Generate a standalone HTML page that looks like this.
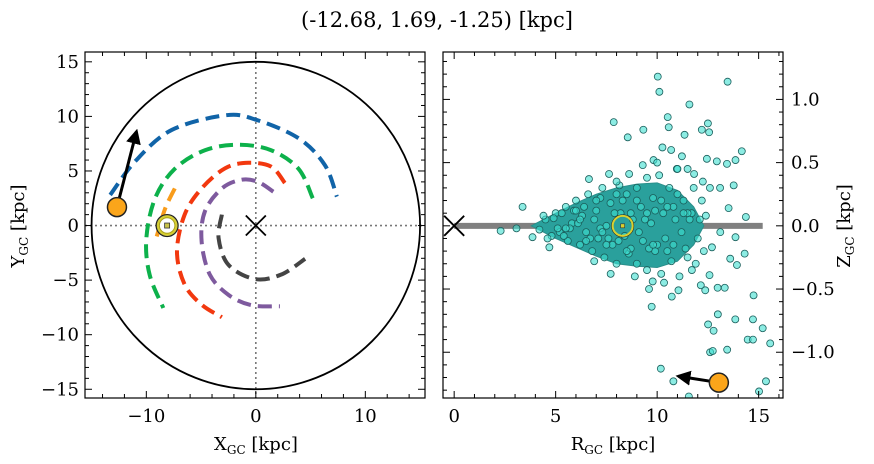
<!DOCTYPE html>
<html><head><meta charset="utf-8"><style>
html,body{margin:0;padding:0;background:#fff}
svg{display:block;font-family:"DejaVu Serif","Liberation Serif",serif}
</style></head><body>
<svg id="s" width="874" height="464" viewBox="0 0 874 464">
<defs>
<clipPath id="cl"><rect x="85" y="52" width="340" height="346"/></clipPath>
<clipPath id="cr"><rect x="443" y="52" width="340" height="346"/></clipPath>
<marker id="ah" viewBox="0 0 10 10" refX="8" refY="5" markerWidth="5" markerHeight="5" orient="auto"><path d="M0,0 L10,5 L0,10 z" fill="#000"/></marker>
</defs>
<text x="437" y="27" text-anchor="middle" font-size="21">(-12.68, 1.69, -1.25) [kpc]</text>
<g id="L"></g>
<g id="R"></g>
</svg>
<script>
// ---- data: left panel (X_GC, Y_GC) orbits ----
const blueOrbitX=[-13.3,-11.0,-7.7,-2.8,0,3.9,6.3,7.4];
const blueOrbitY=[2.8,5.9,8.75,10.1,9.7,8.0,5.55,2.65];
const greenOrbitX=[5.2,3.9,1.4,-1.6,-4.65,-7.4,-9.2,-10.0,-9.7,-8.45];
const greenOrbitY=[2.5,5.2,6.9,7.4,6.9,5.2,2.5,-1.2,-4.5,-7.55];
const orangeOrbitX=[-7.4,-8.3,-9.05];
const orangeOrbitY=[3.4,1.5,-1.0];
const redOrbitX=[2.65,1.4,-0.7,-2.8,-4.95,-6.5,-7.2,-6.5,-4.95,-3.1];
const redOrbitY=[3.9,5.4,5.75,5.25,3.4,1.0,-2.4,-5.4,-7.25,-8.4];
const purpleOrbitX=[1.6,0.2,-1.3,-3.1,-4.65,-4.95,-4.2,-2.5,-0.4,2.2];
const purpleOrbitY=[3.1,4.0,4.2,3.4,1.3,-1.45,-4.5,-6.35,-7.3,-7.4];
const grayOrbitX=[-3.1,-3.4,-2.5,-0.1,2.3,4.5];
const grayOrbitY=[1.0,-1.15,-3.6,-4.9,-4.5,-3.05];
const sunXY=[-8.1,0];
const objXY=[-12.68,1.69];
const objArrowEnd=[-10.9,8.6];
const xTicksL=[-10,0,10];
const yTicksL=[-15,-10,-5,0,5,10,15];
// ---- data: right panel (R_GC, Z_GC) ----
const starR=[10.03,13.47,10.11,11.59,10.52,7.86,10.57,12.5,9.32,8.55,11.35,12.2,12.56,10.26,10.69,14.17,13.86,6.64,3.37,2.29,3.07,3.86,4.69,14.37,13.86,14.31,13.93,9.73,12.99,13.85,14.75,14.72,15.2,12.51,12.78,14.46,14.72,15.57,12.61,12.74,13.45,10.18,10.8,11.56,15.36,15.02,10.72,11.05,12.15,12.37,12.98,13.33,9.78,10.34,7.71,11.71,12.58,13.6,12.7,13.11,13.52,13.77,13.1,12.45,12.94,13.44,11.22,9.82,9.29,8.62,7.63,8.14,11.82,10.97,12.25,
4.5,4.8,5.0,5.2,5.5,5.6,5.8,6.0,6.2,6.3,6.5,6.6,6.8,7.0,7.1,7.3,7.4,7.5,7.7,7.8,8.0,8.0,8.2,8.4,8.5,8.6,8.8,9.0,9.0,9.2,9.3,9.5,9.5,9.7,9.8,9.9,10.1,10.2,10.3,10.4,10.6,10.7,10.9,11.0,11.1,11.3,11.4,11.6,11.8,11.9,7.2,6.9,8.9,10.0,9.6,11.5,12.0,12.2,
4.2,4.4,4.6,4.9,5.1,5.3,5.4,5.7,5.9,6.1,6.4,6.7,6.9,7.2,7.6,7.9,8.1,8.3,8.7,9.1,9.4,9.6,9.9,10.2,10.5,10.8,11.2,11.5,11.7,12.1,6.0,6.5,7.0,7.5,8.0,8.5,9.0,9.5,10.0,10.5,11.0,11.5,5.5,6.2,7.3,8.7,9.8,10.8,11.3,12.4,12.3,12.6];
const starZ=[1.18,1.14,1.06,0.96,0.86,0.82,0.78,0.81,0.76,0.70,0.72,0.76,0.74,0.62,0.60,0.59,0.52,0.37,0.15,-0.04,-0.02,-0.09,-0.17,0.07,-0.09,-0.22,-0.31,-0.64,-0.70,-0.74,-0.55,-0.74,-0.81,-0.78,-0.83,-0.90,-0.90,-0.93,-1.0,-0.99,-0.98,-1.13,-1.23,-1.35,-1.23,-1.31,-0.56,-0.51,-0.47,-0.51,-0.49,-0.49,-0.44,-0.45,-0.38,-0.35,-0.39,-0.26,-0.17,-0.05,0.14,0.32,0.30,0.53,0.51,0.49,0.55,0.52,0.48,0.41,0.41,0.32,0.41,0.45,0.35,
0.05,-0.08,0.1,-0.05,0.15,-0.12,0.02,0.2,-0.15,0.08,-0.05,0.25,-0.2,0.12,-0.1,0.3,-0.25,0.0,0.18,-0.15,0.35,-0.3,0.1,-0.08,0.25,-0.22,0.05,0.3,-0.3,0.15,-0.12,0.38,-0.35,0.02,0.22,-0.2,0.4,-0.38,0.1,-0.1,0.3,-0.28,0.05,0.45,-0.4,0.2,-0.18,0.05,0.3,-0.3,0.22,-0.28,-0.4,0.5,-0.5,0.45,-0.1,0.2,
-0.03,0.08,-0.1,0.06,-0.02,0.1,-0.08,-0.02,0.12,0.02,0.15,-0.1,0.05,-0.02,-0.1,0.1,-0.12,0.2,-0.18,-0.05,0.05,-0.18,0.12,0.2,-0.2,0.15,-0.05,-0.25,0.1,0.05,0.12,-0.12,0.2,-0.15,0.25,-0.2,0.2,0.1,-0.15,0.15,0.25,0.1,-0.02,0.05,-0.05,0.1,-0.15,-0.15,0.1,0.08,-0.2,0.3];
const coreR=[3.8,5,6,7,8,9,10,11,11.8,12.3,11.8,11,10,9,8,7,6,5];
const coreZ=[0,0.1,0.18,0.25,0.3,0.33,0.34,0.28,0.15,0,-0.15,-0.28,-0.33,-0.32,-0.3,-0.24,-0.17,-0.1];
const sunRZ=[8.3,0];
const objRZ=[13.04,-1.24];
const objRZArrowEnd=[11.05,-1.19];
const planeR=[0,15.2];
const xTicksR=[0,5,10,15];
const yTicksR=[-1.0,-0.5,0.0,0.5,1.0];

const NS='http://www.w3.org/2000/svg';
function mk(p,tag,at){const e=document.createElementNS(NS,tag);for(const k in at)e.setAttribute(k,at[k]);p.appendChild(e);return e;}
function fmt(v,d){return (v<0?'\u2212':'')+Math.abs(v).toFixed(d);}
const L={x0:85,x1:425,y0:52,y1:398,xmin:-15.6,xmax:15.45,ymin:-15.8,ymax:15.9};
const R={x0:443,x1:783,y0:52,y1:398,xmin:-0.55,xmax:16.2,ymin:-1.362,ymax:1.375};
function sx(P,v){return P.x0+(v-P.xmin)/(P.xmax-P.xmin)*(P.x1-P.x0);}
function sy(P,v){return P.y1-(v-P.ymin)/(P.ymax-P.ymin)*(P.y1-P.y0);}
function smooth(P,X,Y){
  const pts=X.map((x,i)=>[sx(P,x),sy(P,Y[i])]);
  let d='M'+pts[0][0]+','+pts[0][1];
  for(let i=0;i<pts.length-1;i++){
    const p0=pts[Math.max(0,i-1)],p1=pts[i],p2=pts[i+1],p3=pts[Math.min(pts.length-1,i+2)];
    d+=' C'+(p1[0]+(p2[0]-p0[0])/6)+','+(p1[1]+(p2[1]-p0[1])/6)+' '+(p2[0]-(p3[0]-p1[0])/6)+','+(p2[1]-(p3[1]-p1[1])/6)+' '+p2[0]+','+p2[1];
  }
  return d;
}
function ticks(g,P,xmaj,xmin,ymaj,ymin){
  for(let i=Math.ceil(P.xmin/xmin-1e-9);i*xmin<=P.xmax+1e-9;i++){const v=i*xmin;const x=sx(P,v);const maj=xmaj.some(t=>Math.abs(t-v)<1e-6);const len=maj?7:4;
    mk(g,'line',{x1:x,x2:x,y1:P.y1,y2:P.y1-len,stroke:'#000','stroke-width':1});
    mk(g,'line',{x1:x,x2:x,y1:P.y0,y2:P.y0+len,stroke:'#000','stroke-width':1});}
  for(let i=Math.ceil(P.ymin/ymin-1e-9);i*ymin<=P.ymax+1e-9;i++){const v=i*ymin;const y=sy(P,v);const maj=ymaj.some(t=>Math.abs(t-v)<1e-6);const len=maj?7:4;
    mk(g,'line',{x1:P.x0,x2:P.x0+len,y1:y,y2:y,stroke:'#000','stroke-width':1});
    mk(g,'line',{x1:P.x1,x2:P.x1-len,y1:y,y2:y,stroke:'#000','stroke-width':1});}
}
// ===== Left panel =====
const gl=document.getElementById('L');
const gL=mk(gl,'g',{'clip-path':'url(#cl)'});
let el=mk(gL,'line',{x1:L.x0,x2:L.x1,y1:sy(L,0),y2:sy(L,0),stroke:'#777','stroke-width':1.6,'stroke-dasharray':'2,3'});

el=mk(gL,'line',{x1:sx(L,0),x2:sx(L,0),y1:L.y0,y2:L.y1,stroke:'#777','stroke-width':1.6,'stroke-dasharray':'2,3'});

el=mk(gL,'ellipse',{cx:sx(L,0),cy:sy(L,0),rx:sx(L,15)-sx(L,0),ry:sy(L,0)-sy(L,15),fill:'none',stroke:'#000','stroke-width':1.8});

const orbits=[['blue',blueOrbitX,blueOrbitY,'#1164a8'],['green',greenOrbitX,greenOrbitY,'#0db14b'],['orange',orangeOrbitX,orangeOrbitY,'#f89c1c'],['red',redOrbitX,redOrbitY,'#f2380f'],['purple',purpleOrbitX,purpleOrbitY,'#7e5a9e'],['gray',grayOrbitX,grayOrbitY,'#444']];
for(const [n,X,Y,c] of orbits){
  el=mk(gL,'path',{d:smooth(L,X,Y),fill:'none',stroke:c,'stroke-width':4,'stroke-dasharray':'14,7'});
  
}
function xMark(g,x,y,name){const s=10;const gg=mk(g,'g',{});
  mk(gg,'line',{x1:x-s,y1:y-s,x2:x+s,y2:y+s,stroke:'#000','stroke-width':1.8});mk(gg,'line',{x1:x-s,y1:y+s,x2:x+s,y2:y-s,stroke:'#000','stroke-width':1.8});}
xMark(gL,sx(L,0),sy(L,0),'galactic-center-marker');
function sunMark(g,x,y){const gg=mk(g,'g',{});
  mk(gg,'circle',{cx:x,cy:y,r:11,fill:'#c9c34a',stroke:'#222','stroke-width':1.2});
  mk(gg,'circle',{cx:x,cy:y,r:8,fill:'#fff',stroke:'#aaa01a','stroke-width':1.5});
  mk(gg,'circle',{cx:x,cy:y,r:9,fill:'none',stroke:'#d8d030','stroke-width':1.5});
  mk(gg,'rect',{x:x-2.5,y:y-2.5,width:5,height:5,fill:'#c9c34a',stroke:'#333','stroke-width':0.8});}
sunMark(gL,sx(L,sunXY[0]),sy(L,sunXY[1]));
el=mk(gL,'line',{x1:sx(L,objXY[0]),y1:sy(L,objXY[1]),x2:sx(L,objArrowEnd[0]),y2:sy(L,objArrowEnd[1]),stroke:'#000','stroke-width':3,'marker-end':'url(#ah)'});

el=mk(gL,'circle',{cx:sx(L,objXY[0]),cy:sy(L,objXY[1]),r:9.5,fill:'#fba51a',stroke:'#222','stroke-width':1.5});

el=mk(gl,'rect',{x:L.x0,y:L.y0,width:L.x1-L.x0,height:L.y1-L.y0,fill:'none',stroke:'#000','stroke-width':1.2});

ticks(gl,L,xTicksL,2,yTicksL,1);
for(const v of xTicksL){el=mk(gl,'text',{x:sx(L,v),y:422,'text-anchor':'middle','font-size':18});el.textContent=fmt(v,0);
  }
for(const v of yTicksL){el=mk(gl,'text',{x:79,y:sy(L,v)+6,'text-anchor':'end','font-size':18});el.textContent=fmt(v,0);
  }
el=mk(gl,'text',{x:256,y:450,'text-anchor':'middle','font-size':18});el.innerHTML='X<tspan font-size="12" dy="4">GC</tspan><tspan dy="-4"> [kpc]</tspan>';

el=mk(gl,'text',{x:0,y:0,'text-anchor':'middle','font-size':18,transform:'translate(24,226) rotate(-90)'});el.innerHTML='Y<tspan font-size="12" dy="4">GC</tspan><tspan dy="-4"> [kpc]</tspan>';


// ===== Right panel =====
const gr=document.getElementById('R');
const gR=mk(gr,'g',{'clip-path':'url(#cr)'});
el=mk(gR,'line',{x1:sx(R,planeR[0]),x2:sx(R,planeR[1]),y1:sy(R,0),y2:sy(R,0),stroke:'#808080','stroke-width':6});

el=mk(gR,'polygon',{points:coreR.map((r,i)=>sx(R,r)+','+sy(R,coreZ[i])).join(' '),fill:'#2aa09c',stroke:'#2a8f8b','stroke-width':1});

for(let i=0;i<starR.length;i++){
  const c=mk(gR,'circle',{cx:sx(R,starR[i]),cy:sy(R,starZ[i]),r:3.5,fill:'rgba(64,224,208,0.6)',stroke:'#1b5f5c','stroke-width':0.8});
  
  
}
xMark(gR,sx(R,0),sy(R,0),'galactic-center-marker-rz');
{const x=sx(R,sunRZ[0]),y=sy(R,sunRZ[1]);const gg=mk(gR,'g',{});
  mk(gg,'circle',{cx:x,cy:y,r:11,fill:'none',stroke:'#222','stroke-width':1});
  mk(gg,'circle',{cx:x,cy:y,r:10,fill:'none',stroke:'#d8d030','stroke-width':2});
  mk(gg,'rect',{x:x-2,y:y-2,width:4,height:4,fill:'#d8d030',stroke:'#333','stroke-width':0.6});}
el=mk(gR,'line',{x1:sx(R,objRZ[0]),y1:sy(R,objRZ[1]),x2:sx(R,objRZArrowEnd[0]),y2:sy(R,objRZArrowEnd[1]),stroke:'#000','stroke-width':3,'marker-end':'url(#ah)'});

el=mk(gR,'circle',{cx:sx(R,objRZ[0]),cy:sy(R,objRZ[1]),r:9.5,fill:'#fba51a',stroke:'#222','stroke-width':1.5});

el=mk(gr,'rect',{x:R.x0,y:R.y0,width:R.x1-R.x0,height:R.y1-R.y0,fill:'none',stroke:'#000','stroke-width':1.2});

ticks(gr,R,xTicksR,1,yTicksR,0.1);
for(const v of xTicksR){el=mk(gr,'text',{x:sx(R,v),y:422,'text-anchor':'middle','font-size':18});el.textContent=fmt(v,0);
  }
for(const v of yTicksR){el=mk(gr,'text',{x:791,y:sy(R,v)+6,'text-anchor':'start','font-size':18});el.textContent=fmt(v,1);
  }
el=mk(gr,'text',{x:613,y:450,'text-anchor':'middle','font-size':18});el.innerHTML='R<tspan font-size="12" dy="4">GC</tspan><tspan dy="-4"> [kpc]</tspan>';

el=mk(gr,'text',{x:0,y:0,'text-anchor':'middle','font-size':18,transform:'translate(850,226) rotate(-90)'});el.innerHTML='Z<tspan font-size="12" dy="4">GC</tspan><tspan dy="-4"> [kpc]</tspan>';

</script>
</body></html>
